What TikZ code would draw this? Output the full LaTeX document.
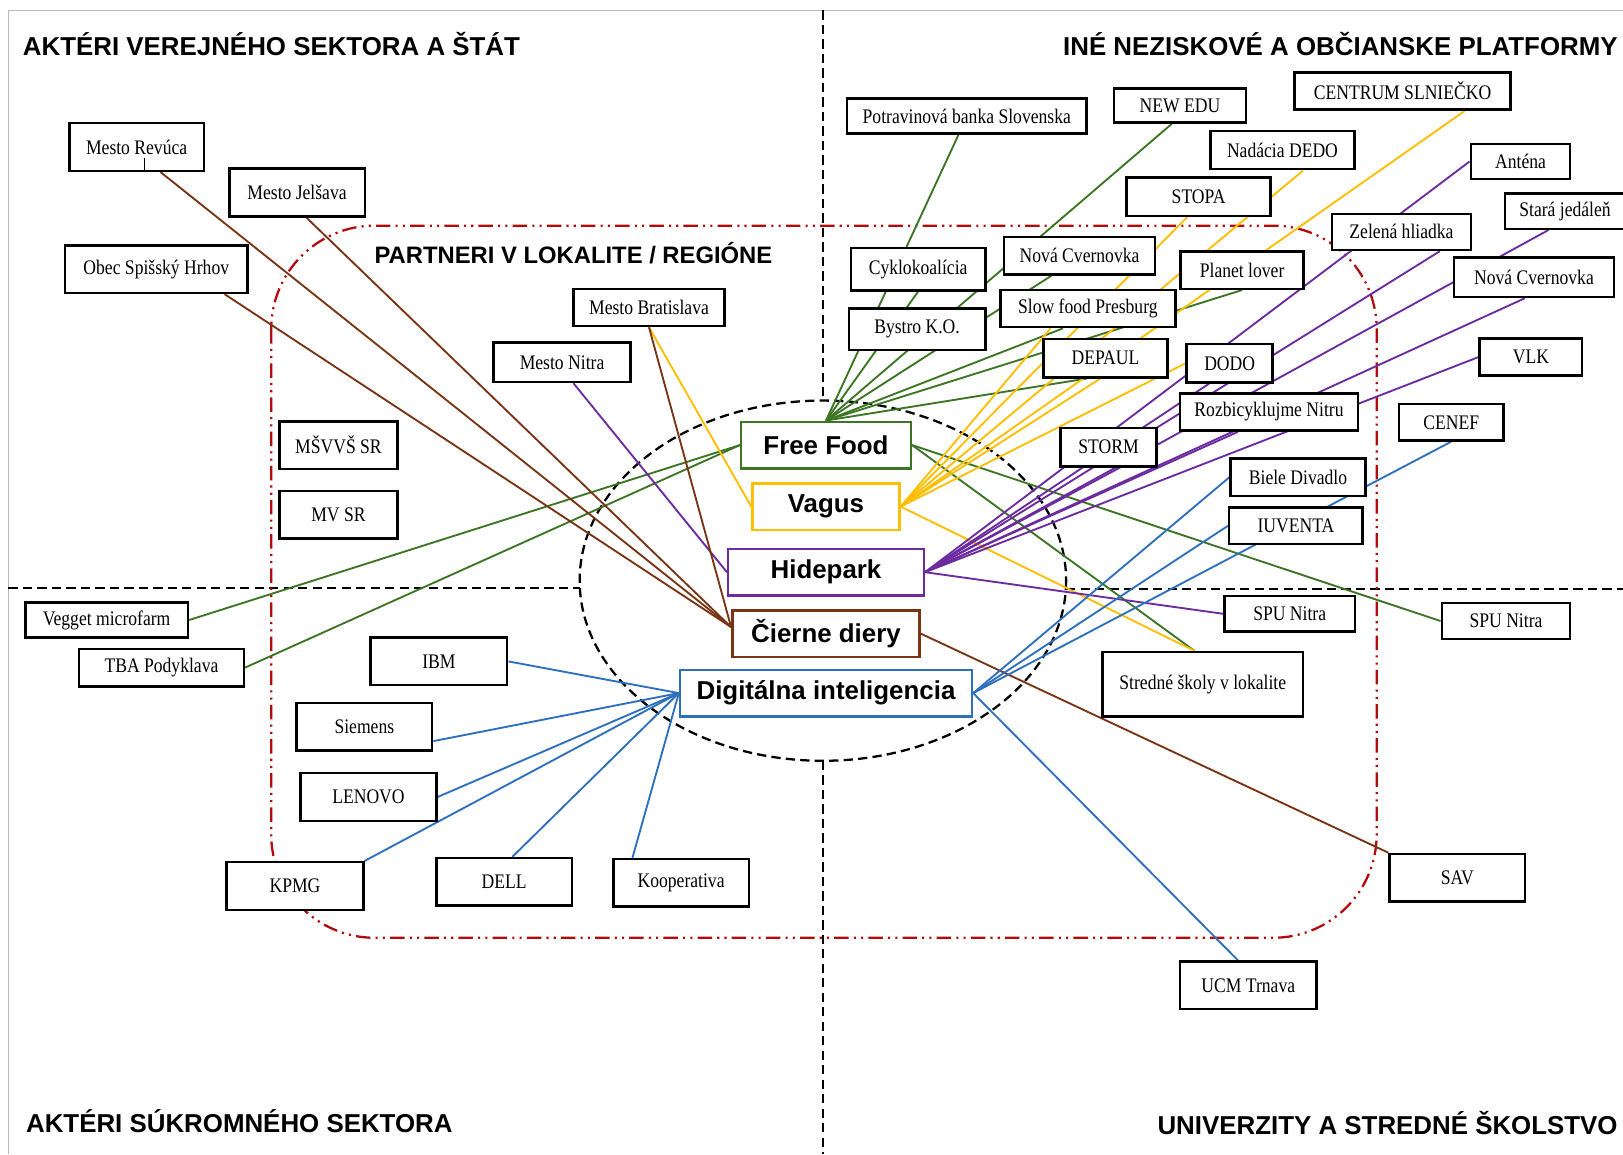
\documentclass[tikz,border=0pt]{standalone}
\usepackage{fontspec}
\setmainfont{Liberation Serif}[FakeStretch=0.85]
\newfontfamily\headfont{Liberation Sans}
\usetikzlibrary{backgrounds,positioning}
\definecolor{foodgreen}{RGB}{60,118,36}
\definecolor{vagusyellow}{RGB}{255,190,0}
\definecolor{parkpurple}{RGB}{108,44,160}
\definecolor{holebrown}{RGB}{120,52,20}
\definecolor{digiblue}{RGB}{46,112,190}
\definecolor{regionred}{RGB}{180,10,10}

\begin{document}
\begin{tikzpicture}[x=1pt,y=-1pt,font=\fontsize{20}{22}\selectfont]
\tikzstyle{actor}=[draw=black,fill=white,line width=2.4pt,minimum height=36pt,inner sep=2pt]
\tikzstyle{tall}=[minimum height=46pt]
\tikzstyle{hub}=[draw,fill=white,line width=2.4pt,minimum height=45pt,inner sep=2pt,font=\headfont\bfseries\fontsize{25}{27}\selectfont]
\tikzstyle{title}=[inner sep=0pt,font=\headfont\bfseries\fontsize{25}{27}\selectfont]
\tikzstyle{axis}=[black,line width=2.2pt,dash pattern=on 9pt off 5pt]
\tikzstyle{region}=[regionred,line width=2.2pt,rounded corners=100pt,dash pattern=on 14pt off 5pt on 2pt off 5pt on 2pt off 5pt]
\tikzstyle{foodlink}=[-,foodgreen,line width=1.8pt]
\tikzstyle{vaguslink}=[-,vagusyellow,line width=1.8pt]
\tikzstyle{parklink}=[-,parkpurple,line width=1.8pt]
\tikzstyle{holelink}=[-,holebrown,line width=1.8pt]
\tikzstyle{digilink}=[-,digiblue,line width=1.8pt]

\useasboundingbox (0,0) rectangle (1568,1115);

\node[title,anchor=west] (tverej) at (22,43) {AKTÉRI VEREJNÉHO SEKTORA A ŠTÁT};
\node[title,anchor=east] (tnezisk) at (1563,43) {INÉ NEZISKOVÉ A OBČIANSKE PLATFORMY};
\node[title,anchor=west] (tsukrom) at (25,1083) {AKTÉRI SÚKROMNÉHO SEKTORA};
\node[title,anchor=east] (tuniv) at (1563,1085) {UNIVERZITY A STREDNÉ ŠKOLSTVO};
\node[title,font=\headfont\bfseries\fontsize{23}{25}\selectfont] (tpartneri) at (554,245) {PARTNERI V LOKALITE / REGIÓNE};

\node[hub,draw=foodgreen,minimum width=164pt] (ff) at (798,430) {Free Food};
\node[hub,draw=vagusyellow,minimum width=142pt] (vag) [below=12pt of ff] {Vagus};
\node[hub,draw=parkpurple,minimum width=189pt] (hp) [below=16pt of vag] {Hidepark};
\node[hub,draw=holebrown,minimum width=181pt] (cd) [below=12pt of hp] {Čierne diery};
\node[hub,draw=digiblue,minimum width=282pt] (dig) [below=10pt of cd] {Digitálna inteligencia};

\node[actor,tall,minimum width=130pt] (rev) at (132,142) {Mesto Revúca};
\node[actor,tall,minimum width=131pt] (jel) at (287,186) {Mesto Jelšava};
\node[actor,tall,minimum width=176pt] (obec) at (151,260) {Obec Spišský Hrhov};
\node[actor,minimum width=146pt] (bra) at (627,297) {Mesto Bratislava};
\node[actor,minimum width=132pt,minimum height=38pt] (nitra) at (543,350) {Mesto Nitra};
\node[actor,tall,minimum width=114pt] (msv) at (327,430) {MŠVVŠ SR};
\node[actor,tall,minimum width=114pt] (mv) [below=19pt of msv] {MV SR};
\node[actor,minimum width=157pt,minimum height=34pt] (veg) at (103,599) {Vegget microfarm};
\node[actor,minimum width=159pt] (tba) at (156,645) {TBA Podyklava};

\node[actor,tall,minimum width=132pt] (ibm) at (424,639) {IBM};
\node[actor,tall,minimum width=131pt] (sie) at (352,702) {Siemens};
\node[actor,tall,minimum width=131pt] (len) at (356,770) {LENOVO};
\node[actor,tall,minimum width=132pt] (kpmg) at (285,856) {KPMG};
\node[actor,tall,minimum width=131pt] (dell) at (487,852) {DELL};
\node[actor,tall,minimum width=131pt] (koop) at (658,853) {Kooperativa};

\node[actor,minimum width=231pt,minimum height=34pt] (pot) at (934,112) {Potravinová banka Slovenska};
\node[actor,minimum width=128pt,minimum height=33pt] (edu) at (1140,102) {NEW EDU};
\node[actor,minimum width=209pt] (cen) at (1355,88) {CENTRUM SLNIEČKO};
\node[actor,minimum width=139pt,minimum height=37pt] (dedo) at (1239,145) {Nadácia DEDO};
\node[actor,minimum width=96pt,minimum height=34pt] (ant) at (1469,156) {Anténa};
\node[actor,minimum width=139pt,minimum height=37pt] (stopa) at (1158,190) {STOPA};
\node[actor,minimum width=116pt,minimum height=34pt] (stara) at (1512,204) {Stará jedáleň};
\node[actor,minimum width=134pt,minimum height=35pt] (zel) at (1354,224) {Zelená hliadka};
\node[actor,minimum width=130pt,minimum height=41pt] (cyk) at (887,260) {Cyklokoalícia};
\node[actor,minimum width=146pt] (nc1) at (1043,247) {Nová Cvernovka};
\node[actor,minimum width=119pt] (planet) at (1200,261) {Planet lover};
\node[actor,minimum width=155pt,minimum height=38pt] (nc2) at (1482,268) {Nová Cvernovka};
\node[actor,minimum width=169pt] (slow) at (1051,298) {Slow food Presburg};
\node[actor,minimum width=132pt,minimum height=40pt] (bys) at (886,318) {Bystro K.O.};
\node[actor,minimum width=120pt,minimum height=37pt] (depaul) at (1068,346) {DEPAUL};
\node[actor,minimum width=83pt,minimum height=37pt] (dodo) at (1188,351) {DODO};
\node[actor,minimum width=99pt] (vlk) at (1479,345) {VLK};
\node[actor,minimum width=172pt] (roz) at (1226,398) {Rozbicyklujme Nitru};
\node[actor,minimum width=101pt,minimum height=35pt] (cenef) at (1402,408) {CENEF};
\node[actor,minimum width=93pt,minimum height=37pt] (storm) at (1071,432) {STORM};
\node[actor,minimum width=130pt] (bd) at (1254,461) {Biele Divadlo};
\node[actor,minimum width=129pt,minimum height=35pt] (iu) at (1252,508) {IUVENTA};
\node[actor,minimum width=126pt,minimum height=34pt] (spu1) at (1246,593) {SPU Nitra};
\node[actor,minimum width=124pt,minimum height=35pt] (spu2) at (1455,600) {SPU Nitra};
\node[actor,minimum width=194pt,minimum height=62pt] (ss) at (1162,661) {Stredné školy v lokalite};
\node[actor,tall,minimum width=131pt] (sav) at (1408,848) {SAV};
\node[actor,tall,minimum width=132pt] (ucm) at (1206,952) {UCM Trnava};

\draw[line width=1pt] ([xshift=8pt]rev.south) -- ++(0,-14);

\begin{scope}[on background layer]
\fill[white] (0,0) rectangle (1568,1115);
\draw[gray!55,line width=1pt] (8,1115) -- (8,10) -- (1568,10);
\draw[axis] (795,10) -- (795,387);
\draw[axis] (795,735) -- (795,1115);
\draw[axis] (8,568) -- (560,568);
\draw[axis] (1030,569) -- (1568,569);
\draw[axis] (795,561) ellipse [x radius=235, y radius=174];
\draw[region] (262,218) rectangle (1330,906);

\path
	(ff.north) edge [foodlink] ([xshift=-8pt]pot.south)
	(ff.north) edge [foodlink] (cyk.south)
	(ff.north) edge [foodlink] ([xshift=-8pt]edu.south)
	(ff.north) edge [foodlink] ([xshift=-27pt]nc1.south)
	(ff.north) edge [foodlink] ([xshift=-24pt]slow.south)
	(ff.north) edge [foodlink] (planet.south)
	(ff.north) edge [foodlink] ([xshift=-18pt]depaul.south)
	(ff.east) edge [foodlink] (spu2.west)
	(ff.east) edge [foodlink] ([xshift=-8pt]ss.north)
	(ff.west) edge [foodlink] (veg.east)
	(ff.west) edge [foodlink] (tba.east);

\path
	(vag.east) edge [vaguslink] ([xshift=60pt]cen.south)
	(vag.east) edge [vaguslink] ([xshift=20pt]dedo.south)
	(vag.east) edge [vaguslink] ([xshift=-11pt]stopa.south)
	(vag.east) edge [vaguslink] ([xshift=-36pt]slow.south)
	(vag.east) edge [vaguslink] ([xshift=-5pt]depaul.south)
	(vag.east) edge [vaguslink] (dodo.west)
	(vag.east) edge [vaguslink] ([xshift=-8pt]ss.north)
	(vag.west) edge [vaguslink] (bra.south);

\path
	(hp.east) edge [parklink] (ant.west)
	(hp.east) edge [parklink] ([xshift=37pt]zel.south)
	(hp.east) edge [parklink] ([xshift=-16pt]stara.south)
	(hp.east) edge [parklink] ([xshift=-9pt]nc2.south)
	(hp.east) edge [parklink] (vlk.west)
	(hp.east) edge [parklink] ([xshift=-30pt]roz.south)
	(hp.east) edge [parklink] (storm.east)
	(hp.east) edge [parklink] ([xshift=-20pt]dodo.south)
	(hp.east) edge [parklink] (spu1.west)
	(hp.west) edge [parklink] ([xshift=11pt]nitra.south);

\path
	(cd.176) edge [holelink] ([xshift=23pt]rev.south)
	(cd.176) edge [holelink] ([xshift=9pt]jel.south)
	(cd.176) edge [holelink] ([xshift=66pt]obec.south)
	(cd.176) edge [holelink] (bra.south)
	(cd.east) edge [holelink] (sav.north west);

\path
	(dig.west) edge [digilink] (ibm.east)
	(dig.west) edge [digilink] ([yshift=-14pt]sie.east)
	(dig.west) edge [digilink] (len.east)
	(dig.west) edge [digilink] (kpmg.north east)
	(dig.west) edge [digilink] ([xshift=8pt]dell.north)
	(dig.west) edge [digilink] ([xshift=-47pt]koop.north)
	(dig.east) edge [digilink] (bd.west)
	(dig.east) edge [digilink] (iu.west)
	(dig.east) edge [digilink] (cenef.south)
	(dig.east) edge [digilink] ([xshift=-10pt]ucm.north);
\end{scope}
\end{tikzpicture}
\end{document}
